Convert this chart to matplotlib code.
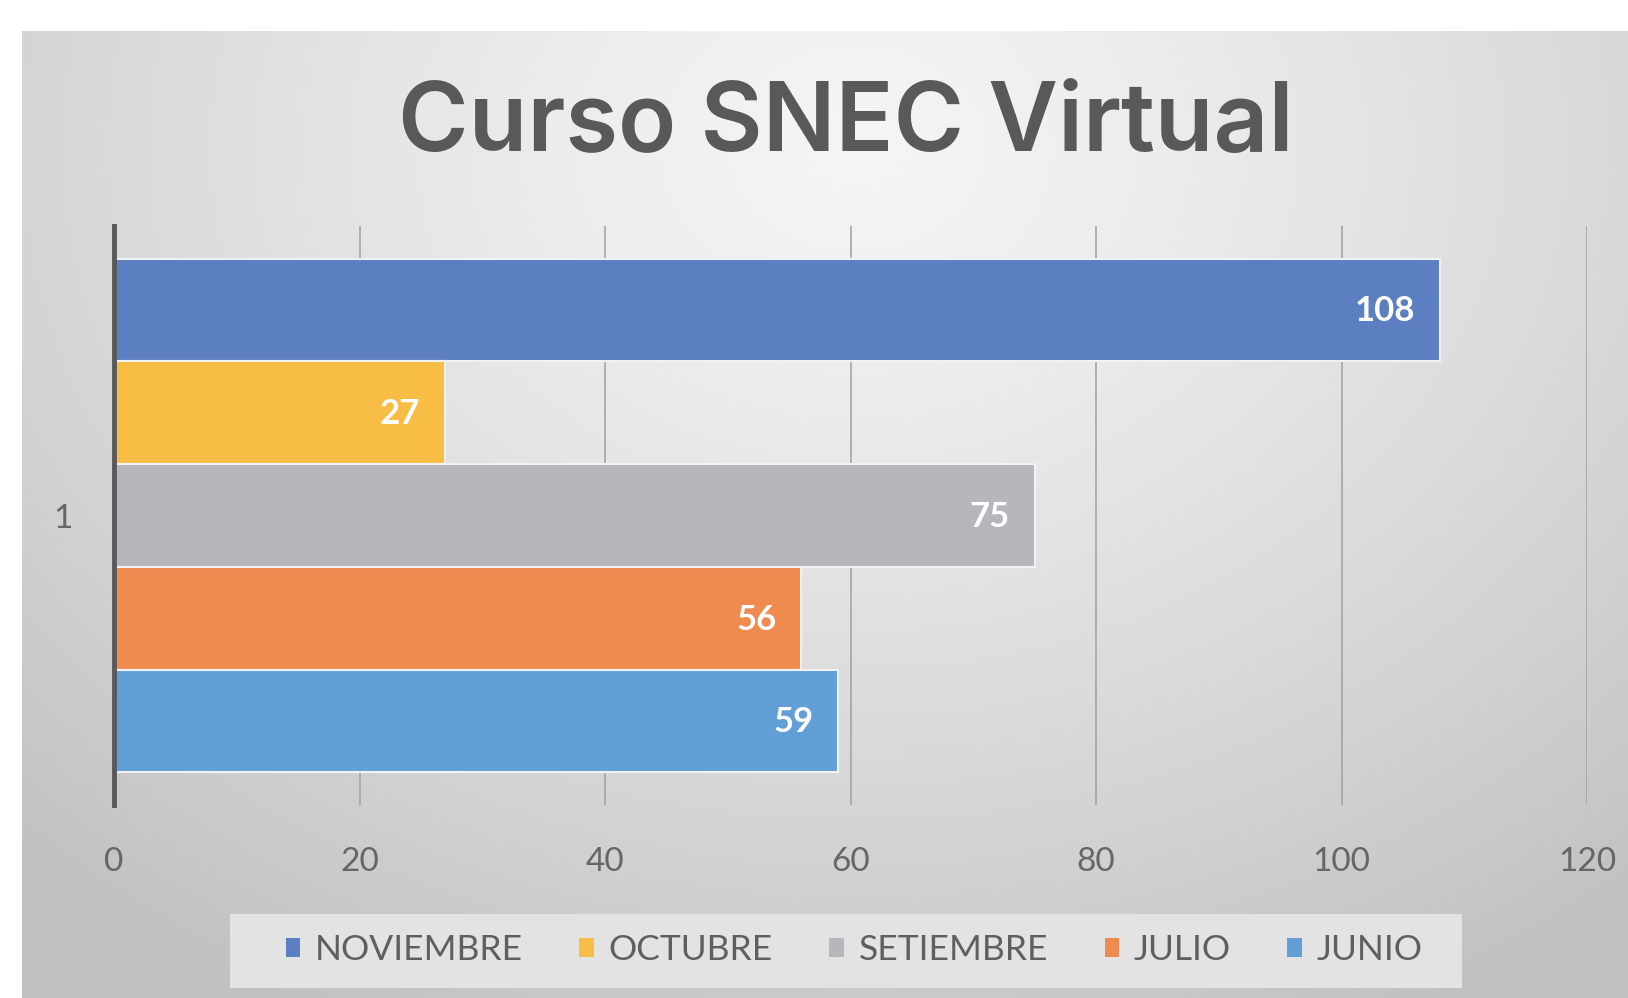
import matplotlib.pyplot as plt
import numpy as np
from matplotlib.patches import Patch, Rectangle

# data, legend order (top bar first)
months = ["NOVIEMBRE", "OCTUBRE", "SETIEMBRE", "JULIO", "JUNIO"]
counts = [108, 27, 75, 56, 59]
colors = ["#5b7fc1", "#f8bd45", "#b5b7ba", "#ef8b4f", "#629fd7"]
category = "1"
xticks = [0, 20, 40, 60, 80, 100, 120]
title = "Curso SNEC Virtual"

W, H = 1628, 998
fig = plt.figure(figsize=(W / 100, H / 100), dpi=100)
fig.patch.set_facecolor("white")

# grey radial gradient panel behind the chart
bg = fig.add_axes([22 / W, 0, 1 - 22 / W, 1 - 31 / H], zorder=-1)
gx, gy = np.meshgrid(np.linspace(0, 1, 400), np.linspace(0, 1, 300))
r = np.sqrt(((gx - 0.52) / 0.75) ** 2 + ((gy - 0.12) / 1.0) ** 2)
r = np.clip(r, 0, 1)
shade = 0.96 - 0.2 * r ** 1.3
bg.imshow(np.dstack([shade] * 3), aspect="auto", extent=[0, 1, 1, 0])
bg.set_axis_off()

ax = fig.add_axes([114 / W, 1 - 805 / H, (1587 - 114) / W, (805 - 226) / H])
ax.set_facecolor("none")

h = 0.1774
n = len(months)
for i, (m, v, c) in enumerate(zip(months, counts, colors)):
    y = 1 + (n // 2 - i) * h
    ax.barh(y, v, height=h, color=c, edgecolor="#f0f2f6", linewidth=1.5, zorder=3)
    ax.annotate(str(v), xy=(v, y), xytext=(-18, -1), textcoords="offset points",
                ha="right", va="center", color="white", fontsize=25,
                fontweight="bold", family="Lato", zorder=4)

ax.set_xlim(xticks[0], xticks[-1])
ax.set_ylim(0.5, 1.5)
ax.set_xticks(xticks)
ax.set_yticks([1])
ax.set_yticklabels([category])
ax.tick_params(axis="both", length=0, labelsize=24, labelcolor="#666666")
ax.tick_params(axis="x", pad=30)
ax.tick_params(axis="y", pad=30)
for lab in ax.get_xticklabels() + ax.get_yticklabels():
    lab.set_family("Lato")

ax.grid(axis="x", color="#a0a0a0", linewidth=1.1, zorder=0)
for s in ["top", "right", "bottom"]:
    ax.spines[s].set_visible(False)
ax.spines["left"].set_color("#595959")
ax.spines["left"].set_linewidth(3.5)
ax.spines["left"].set_zorder(5)

fig.text(846 / W, 1 - 126 / H, title, ha="center", va="center",
         fontsize=69, fontweight="semibold", color="#595959", family="Inter")

# legend box
fig.add_artist(Rectangle((230 / W, 1 - 988 / H), (1462 - 230) / W, 74 / H,
                         transform=fig.transFigure, facecolor="#e3e3e3",
                         edgecolor="none", zorder=1))
handles = [Patch(facecolor=c, edgecolor="none") for c in colors]
leg = fig.legend(handles, months, loc="center", ncol=5,
                 bbox_to_anchor=(854 / W, 1 - 950 / H),
                 bbox_transform=fig.transFigure, frameon=False,
                 handlelength=0.42, handleheight=0.42,
                 handletextpad=0.4, columnspacing=1.6, borderaxespad=0,
                 prop={"family": "Lato", "size": 25.5})
leg.set_zorder(2)
for t in leg.get_texts():
    t.set_color("#5f5f5f")

fig.savefig("out.png", dpi=100)
